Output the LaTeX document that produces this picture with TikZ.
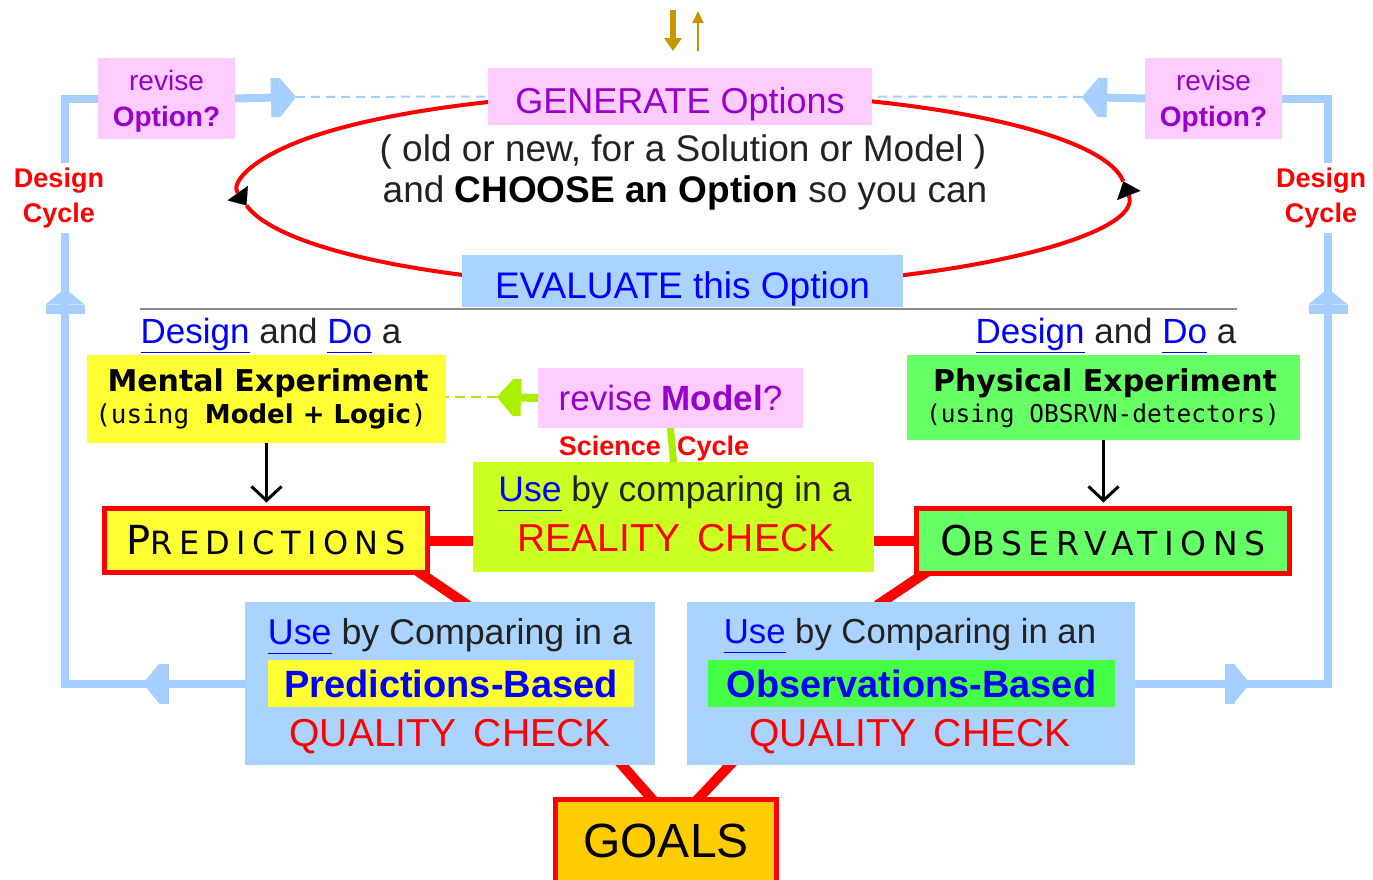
\documentclass[tikz,border=0pt]{standalone}
\usepackage{fontspec}
\setmainfont{Liberation Sans}
\newfontfamily\chicago{DejaVu Sans}
\newfontfamily\monaco{DejaVu Sans Mono}
\newfontfamily\capsfont[LetterSpace=20]{DejaVu Sans}
\usetikzlibrary{arrows.meta,calc,decorations.markings}
\pgfdeclarelayer{back}
\pgfsetlayers{back,main}

\definecolor{optPink}{HTML}{FFCCFF}
\definecolor{optPurple}{HTML}{9900CC}
\definecolor{skyBlue}{HTML}{AAD4FF}
\definecolor{cycBlue}{HTML}{A6CFFF}
\definecolor{linkBlue}{HTML}{0000FF}
\definecolor{mentYellow}{HTML}{FFFF33}
\definecolor{physGreen}{HTML}{66FF66}
\definecolor{obsGreen}{HTML}{44FF44}
\definecolor{realLime}{HTML}{CCFF22}
\definecolor{arrLime}{HTML}{AAEE00}
\definecolor{goalGold}{HTML}{FFCC00}
\definecolor{topGold}{HTML}{C89600}
\definecolor{textGray}{HTML}{222222}

\newcommand\lnk[1]{\textcolor{linkBlue}{\underline{#1\vphantom{g}}}}
\newcommand\fsz[1]{\fontsize{#1}{#1}\selectfont}

\tikzset{
cycTip/.tip={Rectangle[width=39pt,length=9pt,sep=0pt,line width=0.1pt]Triangle[width=39pt,length=16pt,line width=0.1pt]},
markTwo/.style 2 args={postaction=decorate,
    decoration={markings, mark=at position #1 with {\arrow{cycTip}},
    mark=at position #2 with {\arrow{cycTip}}
    } }}

\begin{document}
\begin{tikzpicture}[x=1pt,y=-1pt]
		\tikzset{box/.style = {inner sep=0pt, outer sep=0pt, align=center, text=textGray}}
		\tikzset{base/.style = {text height=#1, text depth=0pt}}
		\tikzset{loopLine/.style = {red, line width=4, -{Triangle[length=15pt,width=25pt,color=black,line width=0.1pt]}}}
		\tikzset{cycLine/.style = {cycBlue, line width=8}}
		\tikzset{cycDash/.style = {cycBlue, line width=2, dash pattern=on 9pt off 6pt}}
		\tikzset{redLink/.style = {red, line width=10, shorten <=-6pt, shorten >=-6pt}}
		\tikzset{down/.style = {black, line width=3, -{Straight Barb[length=14pt,width=30pt]}, shorten >=6pt}}

		\useasboundingbox (0,0) rectangle (1373,879);
		\clip (0,0) rectangle (1373,879);

		% option loop
		\coordinate (loopC) at (683,190);
		\draw[loopLine] ($(loopC)+(270:442 and 98)$) arc[start angle=270, end angle=171, x radius=442, y radius=98];
		\draw[loopLine] ($(loopC)+(171:442 and 98)$) arc[start angle=171, end angle=-5, x radius=442, y radius=98];
		\draw[loopLine, -] ($(loopC)+(-5:442 and 98)$) arc[start angle=-5, end angle=-90, x radius=442, y radius=98];

		\node[box, base=33pt, fill=optPink, minimum width=384, minimum height=57, text=optPurple, font=\fsz{36}] (gen) at (680,96.5) {GENERATE Options};
		\node[box, font=\fsz{37}] (genA) at (683,152) {( old or new, for a Solution or Model )};
		\node[box, font=\fsz{37}] (genB) at (685,193) {and \textcolor{black}{\bfseries CHOOSE an Option} so you can};
		\node[box, base=34pt, fill=skyBlue, minimum width=441, minimum height=52, text=linkBlue, font=\fsz{37}] (eval) at (682.5,281) {EVALUATE this Option};

		\coordinate (inTop) at (673,10);
		\coordinate (inBot) at (673,51);
		\coordinate (outBot) at (698,51);
		\coordinate (outTop) at (698,11);
		\draw[topGold, line width=6, -{Triangle[width=17pt,length=13pt]}] (inTop) -- (inBot);
		\draw[topGold, line width=2, -{Triangle[width=11pt,length=12pt]}] (outBot) -- (outTop);

		\coordinate (ruleL) at (140,309);
		\coordinate (ruleR) at (1237,309);
		\draw[black!45, line width=2] (ruleL) -- (ruleR);

		% design cycles
		\node[box, fill=optPink, minimum width=137, minimum height=81, text=optPurple, font=\fontsize{28}{36}\selectfont] (revL) at (166.5,98.5) {\rule{0pt}{25pt}revise\\\textbf{Option?}};
		\node[box, fill=optPink, minimum width=137, minimum height=81, text=optPurple, font=\fontsize{28}{36}\selectfont] (revR) at (1213.5,98.5) {\rule{0pt}{25pt}revise\\\textbf{Option?}};
		\node[box, fill=white, text=red, inner ysep=5, font=\bfseries\fontsize{27}{35}\selectfont] (dcL) at (59,198) {Design\\Cycle};
		\node[box, fill=white, text=red, inner ysep=5, font=\bfseries\fontsize{27}{35}\selectfont] (dcR) at (1321,198) {Design\\Cycle};

		\coordinate (tipL) at (296,97);
		\coordinate (tipR) at (1082,97);
		\draw[cycLine, -cycTip] (revL.east) -- (tipL);
		\draw[cycDash] (tipL) -- (gen.west);
		\draw[cycLine, -cycTip] (revR.west) -- (tipR);
		\draw[cycDash] (tipR) -- (gen.east);

		% experiments
		\node[box, font=\fsz{35}] (ddL) at (271,335) {\lnk{Design} and \lnk{Do} a};
		\node[box, font=\fsz{35}] (ddR) at (1106,335) {\lnk{Design} and \lnk{Do} a};

		\node[box, fill=mentYellow, minimum width=359, minimum height=88] (ment) at (266.5,399) {};
		\node[box, text=black, font=\chicago\bfseries\fsz{30}] (mentA) at (268,383) {Mental Experiment};
		\node[box, text=black, font=\monaco\fsz{26}] (mentB) at (261,416) {(using {\chicago\bfseries Model + Logic})};

		\node[box, fill=physGreen, minimum width=393, minimum height=85] (phys) at (1103.5,397.5) {};
		\node[box, text=black, font=\chicago\bfseries\fsz{30}] (physA) at (1105,383) {Physical Experiment};
		\node[box, text=black, font=\monaco\fsz{24.5}] (physB) at (1103,416) {(using OBSRVN-detectors)};

		% science cycle
		\node[box, fill=optPink, minimum width=265, minimum height=60, text=optPurple, font=\fsz{35}] (revM) at (670.5,398) {revise \textbf{Model}?};
		\node[box, fill=realLime, minimum width=401, minimum height=110] (real) at (673.5,517) {};
		\node[box, font=\fsz{35.5}] (realA) at (675,493) {\lnk{Use} by comparing in a};
		\node[box, text=red, font=\fsz{39}] (realB) at (676,538) {REALITY\hspace{0.45em}CHECK};
		\node[box, text=red, font=\bfseries\fsz{27}, anchor=base east] (sci) at (661,455) {Science};
		\node[box, text=red, font=\bfseries\fsz{27}, anchor=base west] (cyc) at (677,455) {Cycle};

		\coordinate (tipM) at (497,397);
		\draw[arrLime, line width=8, -{Rectangle[width=37pt,length=8pt,sep=0pt,line width=0.1pt]Triangle[width=37pt,length=16pt,line width=0.1pt]}] (revM.west) -- (tipM);
		\draw[arrLime, line width=2, dash pattern=on 10pt off 6pt] (tipM) -- (tipM -| ment.east);
		\draw[arrLime, line width=7] (revM.south) -- (real.north);

		\node[box, draw=red, line width=5, fill=mentYellow, minimum width=323, minimum height=64, text=black, font=\capsfont\fsz{32}] (pred) at (266,540.5) {{\fsz{40}P}REDICTIONS};
		\node[box, draw=red, line width=5, fill=physGreen, minimum width=373, minimum height=65, text=black, font=\capsfont\fsz{33}] (obs) at (1103,541) {{\fsz{41}O}BSERVATIONS};

		\draw[down] (ment.south) -- (ment.south |- pred.north);
		\draw[down] (phys.south) -- (phys.south |- obs.north);

		% quality checks
		\node[box, fill=skyBlue, minimum width=410, minimum height=163] (pqc) at (450,683.5) {};
		\node[box, font=\fsz{35.8}] (pqcA) at (450,636) {\lnk{Use} by Comparing in a};
		\node[box, fill=mentYellow, minimum width=366, minimum height=47, text=linkBlue, font=\bfseries\fsz{38}] (pqcB) at (451,683.5) {Predictions-Based};
		\node[box, text=red, font=\fsz{39}] (pqcC) at (450,737) {QUALITY\hspace{0.45em}CHECK};

		\node[box, fill=skyBlue, minimum width=448, minimum height=163] (oqc) at (911,683.5) {};
		\node[box, font=\fsz{34.7}] (oqcA) at (910,636) {\lnk{Use} by Comparing in an};
		\node[box, fill=obsGreen, minimum width=407, minimum height=47, text=linkBlue, font=\bfseries\fsz{38}] (oqcB) at (911.5,683.5) {Observations-Based};
		\node[box, text=red, font=\fsz{39}] (oqcC) at (910,737) {QUALITY\hspace{0.45em}CHECK};

		\node[box, draw=red, line width=5, fill=goalGold, minimum width=221, minimum height=83, text=black, font=\fsz{48}] (goals) at (666,841) {GOALS};

		\begin{pgfonlayer}{back}
		\draw[cycLine, markTwo={102pt}{575pt}] (pqc.west) -- ++(-180,0) |- (revL.west);
		\draw[cycLine, markTwo={115pt}{588pt}] (oqc.east) -- ++(193,0) |- (revR.east);

		\draw[redLink] (pred.east) -- (pred.east -| real.west);
		\draw[redLink] (obs.west -| real.east) -- (obs.west);
		\draw[redLink] ([xshift=-8]pred.south east) -- ([xshift=218]pqc.north west);
		\draw[redLink] ([xshift=8]obs.south west) -- ([xshift=195]oqc.north west);
		\draw[redLink] ([xshift=-33]pqc.south east) -- ([xshift=97]goals.north west);
		\draw[redLink] ([xshift=43]oqc.south west) -- ([xshift=142]goals.north west);
		\end{pgfonlayer}

	\end{tikzpicture}
\end{document}
